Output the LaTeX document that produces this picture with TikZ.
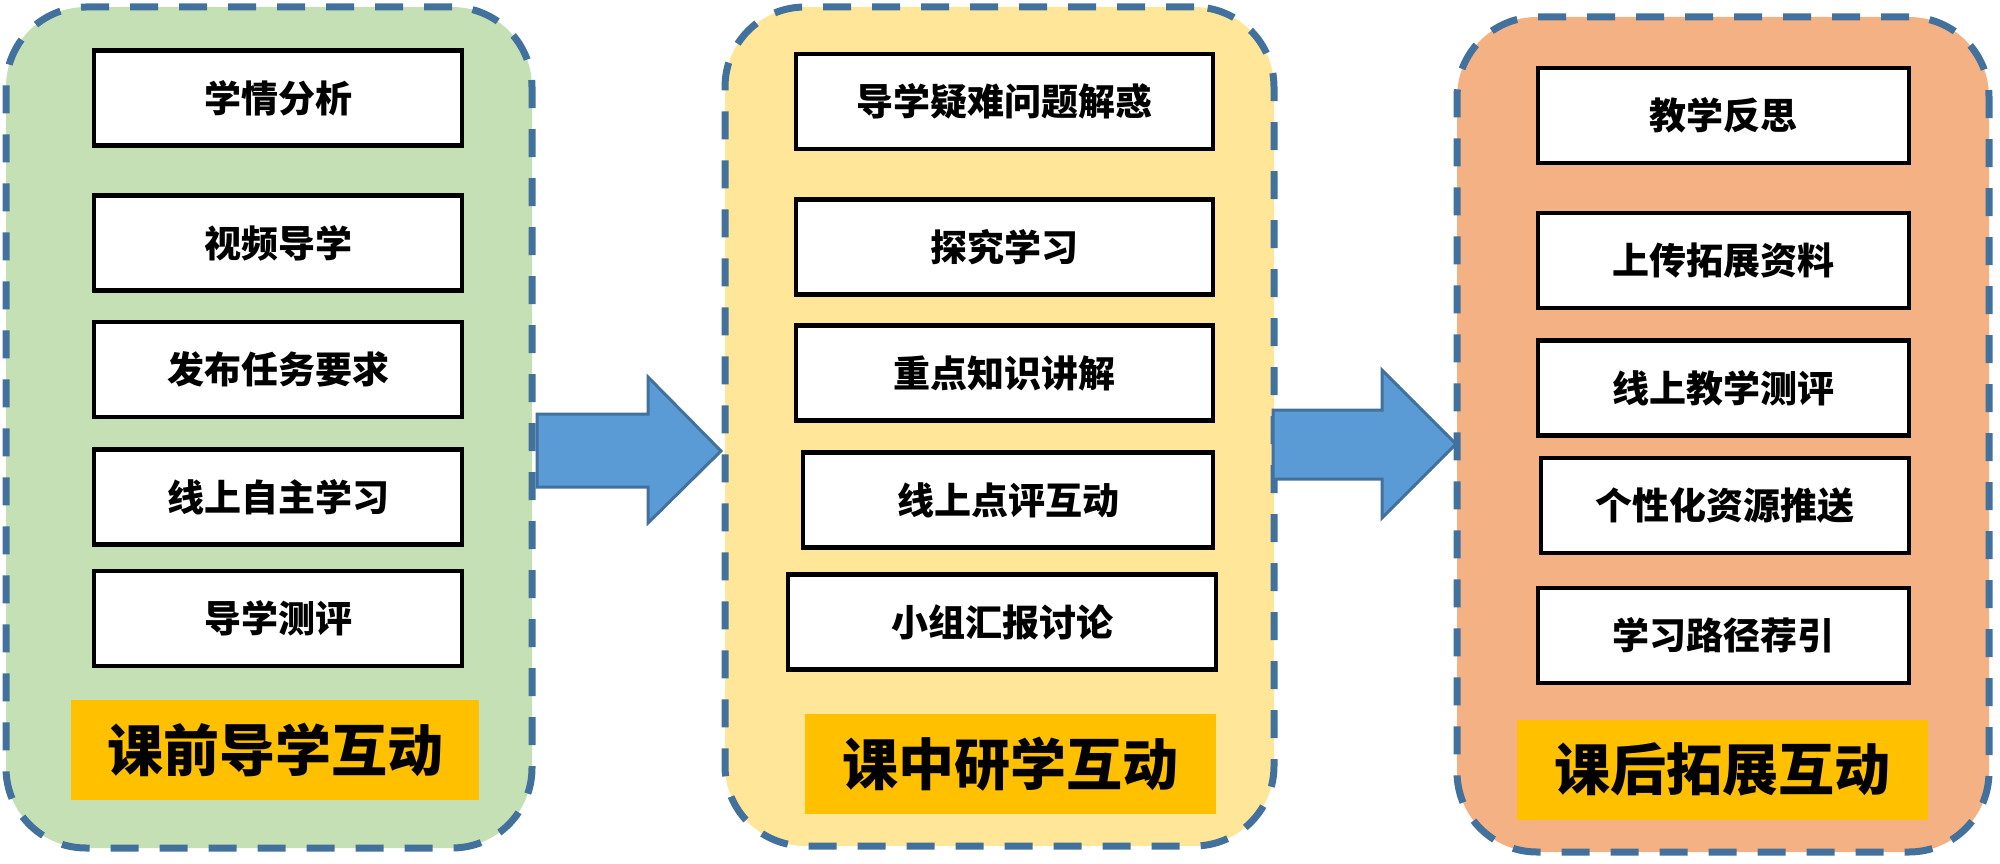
\documentclass[tikz,border=0pt]{standalone}
\usepackage{fontspec}
\newfontfamily\cjk{Noto Sans CJK SC}
\usetikzlibrary{shapes.arrows}
\definecolor{pgreen}{HTML}{C5E0B4}
\definecolor{pyellow}{HTML}{FFE699}
\definecolor{porange}{HTML}{F4B183}
\definecolor{dashblue}{HTML}{41719C}
\definecolor{arrowblue}{HTML}{5B9BD5}
\definecolor{labelorange}{HTML}{FFC000}
\tikzset{
  panel/.style={draw=dashblue, line width=7pt, dash pattern=on 28pt off 21pt, rounded corners=80pt},
  itembox/.style={draw=black, line width=4.5pt, fill=white, minimum height=95pt, inner sep=0pt,
    font=\cjk\bfseries\fontsize{37}{40}\selectfont},
  stagelabel/.style={fill=labelorange, draw=none, minimum height=100pt, minimum width=410pt, inner sep=0pt,
    font=\cjk\bfseries\fontsize{56}{60}\selectfont},
  blockarrow/.style={fill=arrowblue, draw=dashblue, line width=3pt, line join=miter},
}
\begin{document}
\begin{tikzpicture}[x=1pt,y=-1pt]
\useasboundingbox (0,0) rectangle (2000,864);
% panels
\node[panel, fill=pgreen, minimum width=526pt, minimum height=841pt] (p1) at (269,427.5) {};
\node[panel, fill=pyellow, minimum width=549pt, minimum height=839pt] (p2) at (999.5,426.5) {};
\node[panel, fill=porange, minimum width=532pt, minimum height=835pt] (p3) at (1723,434.5) {};
% panel 1
\node[itembox, minimum width=368pt] (a1) at (278,98) {学情分析};
\node[itembox, minimum width=368pt] (a2) at (278,243) {视频导学};
\node[itembox, minimum width=368pt] (a3) at (278,369.5) {发布任务要求};
\node[itembox, minimum width=368pt] (a4) at (278,497) {线上自主学习};
\node[itembox, minimum width=368pt] (a5) at (278,618.5) {导学测评};
\node[stagelabel, minimum width=408pt] (la) at (275,749.5) {课前导学互动};
% panel 2
\node[itembox, minimum width=417pt] (b1) at (1004.5,101.5) {导学疑难问题解惑};
\node[itembox, minimum width=417pt] (b2) at (1004.5,247) {探究学习};
\node[itembox, minimum width=417pt] (b3) at (1004.5,373) {重点知识讲解};
\node[itembox, minimum width=410pt] (b4) at (1008,500) {线上点评互动};
\node[itembox, minimum width=428pt] (b5) at (1002,622) {小组汇报讨论};
\node[stagelabel, minimum width=411pt] (lb) at (1010.5,764) {课中研学互动};
% panel 3
\node[itembox, minimum width=371pt] (c1) at (1723.5,115.5) {教学反思};
\node[itembox, minimum width=371pt] (c2) at (1723.5,260.5) {上传拓展资料};
\node[itembox, minimum width=371pt] (c3) at (1723.5,388) {线上教学测评};
\node[itembox, minimum width=368pt] (c4) at (1725,505.5) {个性化资源推送};
\node[itembox, minimum width=371pt] (c5) at (1723.5,635.5) {学习路径荐引};
\node[stagelabel, minimum width=411pt] (lc) at (1722.5,769.5) {课后拓展互动};
% block arrows
\draw[blockarrow] (537,414) -- (648,414) -- (648,377) -- (721,451) -- (648,523) -- (648,487) -- (537,487) -- cycle;
\draw[blockarrow] (1273,410) -- (1382,410) -- (1382,370) -- (1456,444) -- (1382,518) -- (1382,479) -- (1273,479) -- cycle;
\end{tikzpicture}
\end{document}
